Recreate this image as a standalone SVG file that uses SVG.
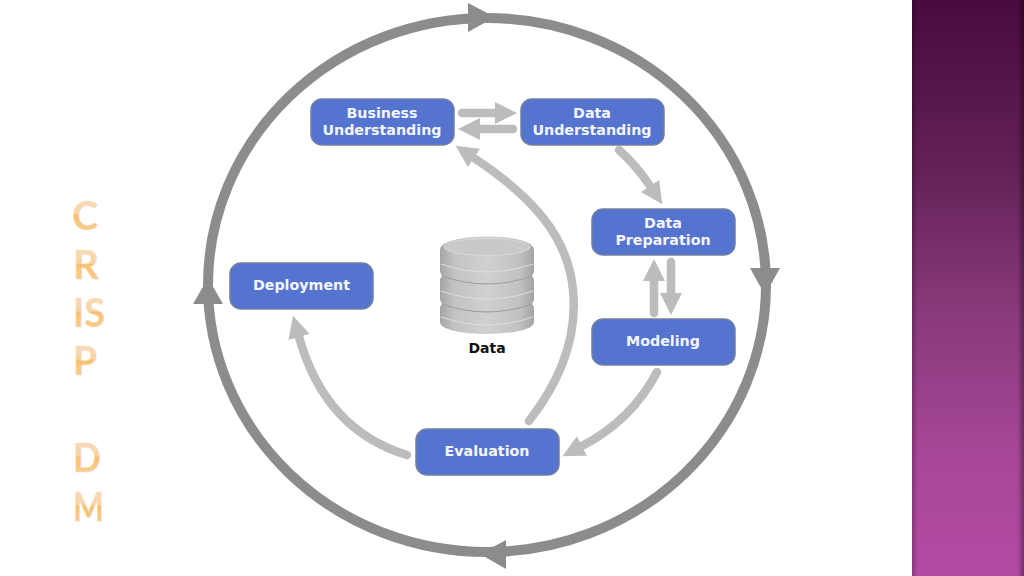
<svg xmlns="http://www.w3.org/2000/svg" width="1024" height="576" viewBox="0 0 1024 576">
<style>
.n rect{fill:#5574d0;stroke:#727f9e;stroke-width:1.500}
.n text{font:bold 14.250px "DejaVu Sans",Verdana,sans-serif;fill:#f4f6fc;text-anchor:middle}
.c{fill:none;stroke:#bcbcbc;stroke-width:8.500;stroke-linecap:round}
.ring{fill:none;stroke:#8c8c8c;stroke-width:10}
.hd{fill:#8c8c8c}
.t{font:bold 41px Lato,"Open Sans",sans-serif;fill:url(#ttl);stroke:#f6dcc0;stroke-width:.6}
.dl{font:bold 14px "DejaVu Sans",Verdana,sans-serif;fill:#111;text-anchor:middle}
</style>
<defs>
<linearGradient id="band" x1="0" y1="0" x2="0" y2="1"><stop offset="0" stop-color="#490a3e"/><stop offset=".3" stop-color="#642258"/><stop offset=".55" stop-color="#8a3a7c"/><stop offset=".8" stop-color="#a84798"/><stop offset="1" stop-color="#b34ba3"/></linearGradient>
<linearGradient id="edge" x1="0" y1="0" x2="1" y2="0"><stop offset="0" stop-color="#000" stop-opacity=".25"/><stop offset=".05" stop-color="#000" stop-opacity="0"/><stop offset=".94" stop-color="#000" stop-opacity="0"/><stop offset="1" stop-color="#000" stop-opacity=".35"/></linearGradient>
<linearGradient id="ttl" x1="0" y1="0" x2="0" y2="1"><stop offset="0" stop-color="#f9e0c8"/><stop offset=".48" stop-color="#f8d4a4"/><stop offset=".52" stop-color="#f9c06c"/><stop offset="1" stop-color="#f8d4a4"/></linearGradient>
<linearGradient id="cyl" x1="0" y1="0" x2="1" y2="0"><stop offset="0" stop-color="#a3a5a7"/><stop offset=".15" stop-color="#c2c3c4"/><stop offset=".5" stop-color="#cfd0d1"/><stop offset=".85" stop-color="#c0c1c2"/><stop offset="1" stop-color="#a1a3a5"/></linearGradient>
<marker id="ah" markerUnits="userSpaceOnUse" markerWidth="23" markerHeight="24" refX="0" refY="11" orient="auto"><path d="M0,0L22,11L0,22Z" fill="#bcbcbc"/></marker>
</defs>
<rect id="band-rect" x="912" y="0" width="112" height="576" fill="url(#band)"/>
<rect x="912" y="0" width="112" height="576" fill="url(#edge)"/>
<g id="title">
<text class="t" x="72" y="230" textLength="26" lengthAdjust="spacingAndGlyphs">C</text>
<text class="t" x="73" y="279" textLength="26" lengthAdjust="spacingAndGlyphs">R</text>
<text class="t" x="73" y="327" textLength="32" lengthAdjust="spacingAndGlyphs">IS</text>
<text class="t" x="73" y="375" textLength="24" lengthAdjust="spacingAndGlyphs">P</text>
<text class="t" x="73" y="472" textLength="28" lengthAdjust="spacingAndGlyphs">D</text>
<text class="t" x="73" y="521" textLength="31" lengthAdjust="spacingAndGlyphs">M</text>
</g>
<g id="cycle">
<ellipse class="ring" cx="487" cy="285" rx="279" ry="267"/>
<path class="hd" d="M468,3L495,17L468,32Z"/>
<path class="hd" d="M750,268L780,268L765,295Z"/>
<path class="hd" d="M506,540L480,554L506,569Z"/>
<path class="hd" d="M193,304L223,304L208,278Z"/>
</g>
<g id="connectors">
<path class="c" d="M462,113L495,113" marker-end="url(#ah)"/>
<path class="c" d="M513,129L480,129" marker-end="url(#ah)"/>
<path class="c" d="M619,150Q636,165 650,186" marker-end="url(#ah)"/>
<path class="c" d="M671,262L671,293" marker-end="url(#ah)"/>
<path class="c" d="M654,313L654,281" marker-end="url(#ah)"/>
<path class="c" d="M657,372Q632,420 582,446" marker-end="url(#ah)"/>
<path class="c" d="M407,455Q325,430 299,337" marker-end="url(#ah)"/>
<path class="c" d="M529,421C565,375 577,330 573,290C568,235 530,195 474,158" marker-end="url(#ah)"/>
</g>
<g id="data-store">
<path d="M440,250C440,232 534,232 534,250V272L532,276L534,279V300L532,304L534,307V322C534,338 440,338 440,322V307L442,304L440,300V279L442,276L440,272Z" fill="url(#cyl)"/>
<ellipse cx="487" cy="247" rx="43" ry="8.500" fill="#c8c9ca" stroke="#d8d9d9"/>
<path d="M441,264Q487,280 533,264M441,291Q487,307 533,291M441,317Q487,333 533,317" fill="none" stroke="#dedede" stroke-width="1"/>
<path d="M442,276Q487,292 532,276M442,304Q487,320 532,304" fill="none" stroke="#9a9c9e" stroke-width="1"/>
<text class="dl" x="487" y="353">Data</text>
</g>
<g id="business" class="n"><rect x="311" y="99" width="143" height="46" rx="11"/><text x="382" y="118">Business</text><text x="382" y="135">Understanding</text></g>
<g id="data-understanding" class="n"><rect x="521" y="99" width="143" height="46" rx="11"/><text x="592" y="118">Data</text><text x="592" y="135">Understanding</text></g>
<g id="data-preparation" class="n"><rect x="592" y="209" width="143" height="46" rx="11"/><text x="663" y="228">Data</text><text x="663" y="245">Preparation</text></g>
<g id="modeling" class="n"><rect x="592" y="319" width="143" height="46" rx="11"/><text x="663" y="346">Modeling</text></g>
<g id="evaluation" class="n"><rect x="416" y="429" width="143" height="46" rx="11"/><text x="487" y="456">Evaluation</text></g>
<g id="deployment" class="n"><rect x="230" y="263" width="143" height="46" rx="11"/><text x="301.500" y="290">Deployment</text></g>
</svg>
